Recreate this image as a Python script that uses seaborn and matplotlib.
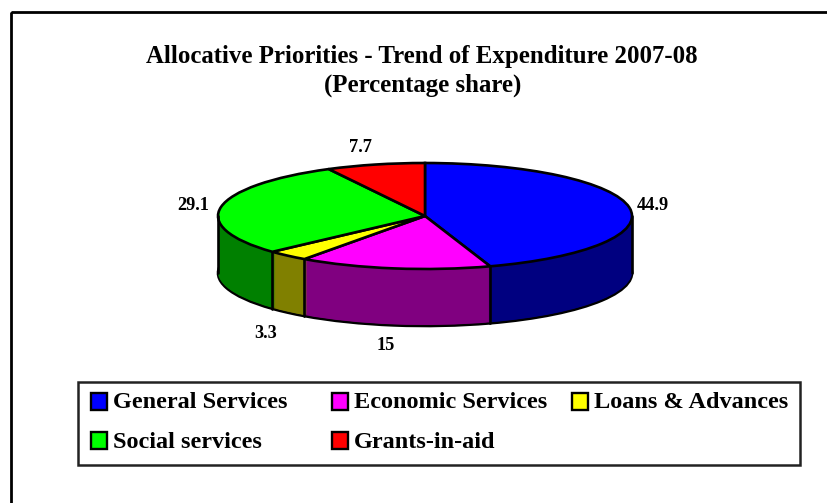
import matplotlib
matplotlib.use("Agg")
import matplotlib.pyplot as plt
import numpy as np
import seaborn as sns
from matplotlib.patches import Rectangle

title_lines = ["Allocative Priorities - Trend of Expenditure 2007-08", "(Percentage share)"]
categories = ["General Services", "Economic Services", "Loans & Advances", "Social services", "Grants-in-aid"]
shares = [44.9, 15, 3.3, 29.1, 7.7]
share_labels = ["44.9", "15", "3.3", "29.1", "7.7"]
top_colors = ["#0000ff", "#ff00ff", "#ffff00", "#00ff00", "#ff0000"]
side_colors = ["#000080", "#800080", "#808000", "#008000", "#800000"]

W, H = 827, 503

sns.set_theme(style="white")
plt.rcParams["font.family"] = ["Liberation Serif", "DejaVu Serif"]
plt.rcParams["font.weight"] = "bold"

fig = plt.figure(figsize=(W / 100, H / 100), dpi=100, facecolor="white")

# whole figure in pixel coords for text and frame
bg = fig.add_axes([0, 0, 1, 1])
bg.set_xlim(0, W)
bg.set_ylim(H, 0)
bg.axis("off")
# frame runs off the right and bottom of the picture
bg.add_patch(Rectangle((10.5, 11.5), 900, 600, fill=False, ec="black", lw=2))

bg.text(422, 56, title_lines[0], ha="center", va="center", fontsize=17.9, color="black")
bg.text(423, 85, title_lines[1], ha="center", va="center", fontsize=17.9, color="black")

# pie axes: stretched so the circle becomes the flat ellipse
cx, cy, rx, ry, depth = 425, 216, 207, 53, 57
ax = fig.add_axes([(cx - rx) / W, 1 - (cy + ry + depth) / H, 2 * rx / W, (2 * ry + depth) / H])


def draw_pie(colors, offset, **props):
    wedges, _ = ax.pie(shares, colors=colors, startangle=90, counterclock=False,
                       center=(0, -offset), radius=1, frame=True, wedgeprops=props)
    for w in wedges:
        w.set_clip_on(False)


# the side wall is the same pie stacked downwards, lowest layer carries the outline
draw_pie(side_colors, depth / ry, edgecolor="black", linewidth=1.9)
for i in range(depth - 1, 0, -1):
    draw_pie(side_colors, i / ry, linewidth=0)

# wall edges at the slice borders on the front half, plus the silhouette
angles = np.deg2rad(90 - 3.6 * np.cumsum(shares) / (sum(shares) / 100))
for a in angles:
    if np.sin(a) < 0:
        ax.plot([np.cos(a)] * 2, [np.sin(a), np.sin(a) - depth / ry], color="black", lw=1.9, clip_on=False)
ax.plot([-1, -1], [0, -depth / ry], color="black", lw=1.9, clip_on=False)
ax.plot([1, 1], [0, -depth / ry], color="black", lw=1.9, clip_on=False)

draw_pie(top_colors, 0, edgecolor="black", linewidth=1.9)

ax.set_xlim(-1, 1)
ax.set_ylim(-1 - depth / ry, 1)
ax.set_aspect("auto")
ax.axis("off")

# value labels
label_xy = [(653, 205), (386, 346), (266, 334), (193, 205), (361, 147)]
for txt, (x, y) in zip(share_labels, label_xy):
    bg.text(x, y, txt, ha="center", va="center", fontsize=13.2, color="black")

# legend by hand, its columns are not the widths matplotlib would give
bg.add_patch(Rectangle((77.5, 381.5), 722, 83, fill=False, ec="#222222", lw=1.8, zorder=3))
legend_xy = [(90, 402), (331, 402), (571, 402), (90, 441), (331, 441)]
for name, c, (x, y) in zip(categories, top_colors, legend_xy):
    bg.add_patch(Rectangle((x + 0.5, y - 9), 16, 17, fc=c, ec="black", lw=1.7, zorder=3))
    bg.text(x + 23, y + 1, name, ha="left", va="center", fontsize=17.5, color="black")

fig.savefig("out.png", dpi=100, facecolor="white")
